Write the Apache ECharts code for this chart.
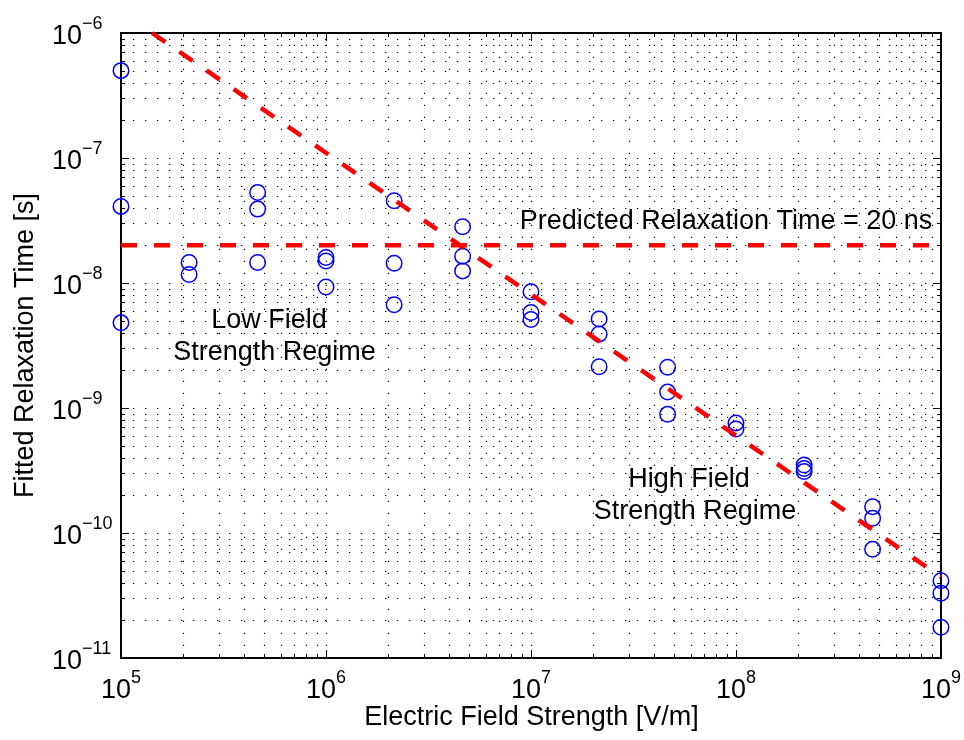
<!DOCTYPE html>
<html>
<head>
<meta charset="utf-8">
<script src="https://cdn.jsdelivr.net/npm/echarts@6/dist/echarts.min.js"></script>
<style>
  html, body { margin: 0; padding: 0; background: #ffffff; }
  #chart { width: 964px; height: 740px; }
</style>
</head>
<body>
<div id="chart"></div>
<script>
// Fitted relaxation times (s) against applied field strength (V/m)
const fieldStrength = [
  1e5, 1e5, 1e5,
  2.15e5, 2.15e5,
  4.64e5, 4.64e5, 4.64e5,
  1e6, 1e6, 1e6,
  2.15e6, 2.15e6, 2.15e6,
  4.64e6, 4.64e6, 4.64e6,
  1e7, 1e7, 1e7,
  2.15e7, 2.15e7, 2.15e7,
  4.64e7, 4.64e7, 4.64e7,
  1e8, 1e8,
  2.15e8, 2.15e8, 2.15e8,
  4.64e8, 4.64e8, 4.64e8,
  1e9, 1e9, 1e9
];
const relaxationTime = [
  5.0e-7, 4.1e-8, 4.8e-9,
  1.46e-8, 1.17e-8,
  5.3e-8, 3.9e-8, 1.46e-8,
  1.6e-8, 1.5e-8, 9.3e-9,
  4.55e-8, 1.44e-8, 6.7e-9,
  2.82e-8, 1.64e-8, 1.25e-8,
  8.5e-9, 5.8e-9, 5.1e-9,
  5.15e-9, 3.9e-9, 2.14e-9,
  2.12e-9, 1.34e-9, 8.9e-10,
  7.6e-10, 6.8e-10,
  3.5e-10, 3.28e-10, 3.1e-10,
  1.62e-10, 1.31e-10, 7.4e-11,
  4.15e-11, 3.3e-11, 1.76e-11
];

// Predicted constant relaxation time: 20 ns
const predictedTime = 2e-8;
const fieldRange = [1e5, 1e9];

// High-field trend line endpoints (field, time)
const trendField = [1.42e5, 1e9];
const trendTime = [1e-6, 4.45e-11];

// Axis decades
const xDecades = [1e5, 1e6, 1e7, 1e8, 1e9];
const yDecades = [1e-11, 1e-10, 1e-9, 1e-8, 1e-7, 1e-6];

const FONT = '"Liberation Sans", Arial, Helvetica, sans-serif';

// Minor grid values 2..9 within each decade
function minorValues(decades) {
  const out = [];
  for (let i = 0; i < decades.length - 1; i++) {
    for (let m = 2; m <= 9; m++) out.push(m * decades[i]);
  }
  return out;
}

// Grid/tick items: [x, y, kind] kind 0 = vertical minor, 1 = vertical major,
// 2 = horizontal minor, 3 = horizontal major
const gridItems = [];
minorValues(xDecades).forEach(v => gridItems.push([v, yDecades[0], 0]));
xDecades.forEach(v => gridItems.push([v, yDecades[0], 1]));
minorValues(yDecades).forEach(v => gridItems.push([xDecades[0], v, 2]));
yDecades.forEach(v => gridItems.push([xDecades[0], v, 3]));

function renderGrid(params, api) {
  const cs = params.coordSys;
  const kind = api.value(2);
  const left = cs.x, right = cs.x + cs.width, top = cs.y, bottom = cs.y + cs.height;
  const tick = (kind === 1 || kind === 3) ? 8 : 4;
  const children = [];
  const dot = { stroke: '#000', lineWidth: 1.2, lineDash: [1.3, 10.7] };
  const solid = { stroke: '#000', lineWidth: 1 };
  if (kind <= 1) {
    const px = Math.round(api.coord([api.value(0), api.value(1)])[0]) + 0.5;
    if (px > left + 2 && px < right - 2) {
      children.push({ type: 'line', shape: { x1: px, y1: bottom, x2: px, y2: top }, style: dot });
    }
    children.push({ type: 'line', shape: { x1: px, y1: bottom, x2: px, y2: bottom - tick }, style: solid });
    children.push({ type: 'line', shape: { x1: px, y1: top, x2: px, y2: top + tick }, style: solid });
  } else {
    const py = Math.round(api.coord([api.value(0), api.value(1)])[1]) + 0.5;
    if (py > top + 2 && py < bottom - 2) {
      children.push({ type: 'line', shape: { x1: left, y1: py, x2: right, y2: py }, style: dot });
    }
    children.push({ type: 'line', shape: { x1: left, y1: py, x2: left + tick, y2: py }, style: solid });
    children.push({ type: 'line', shape: { x1: right, y1: py, x2: right - tick, y2: py }, style: solid });
  }
  return { type: 'group', children };
}

function powerLabel(v) {
  const e = Math.round(Math.log10(v));
  const s = e < 0 ? '\u2212' + (-e) : String(e);
  return '{b|10}{e|' + s + '}';
}

// Base "10" sits low in a tall line box, exponent hangs at its top
const labelRich = {
  b: { fontSize: 27, lineHeight: 35, verticalAlign: 'bottom', fontFamily: FONT, color: '#000' },
  e: { fontSize: 18, lineHeight: 18, verticalAlign: 'top', fontFamily: FONT, color: '#000' }
};

const chart = echarts.init(document.getElementById('chart'), null, { renderer: 'canvas' });

chart.setOption({
  animation: false,
  backgroundColor: '#ffffff',
  grid: {
    left: 121, top: 33, width: 821, height: 625,
    show: true, borderColor: '#000', borderWidth: 2, backgroundColor: 'transparent'
  },
  xAxis: {
    type: 'log', logBase: 10, min: fieldRange[0], max: fieldRange[1],
    axisLine: { show: false }, axisTick: { show: false }, splitLine: { show: false },
    axisLabel: { formatter: powerLabel, rich: labelRich, margin: 11, showMinLabel: true, showMaxLabel: true }
  },
  yAxis: {
    type: 'log', logBase: 10, min: yDecades[0], max: yDecades[yDecades.length - 1],
    axisLine: { show: false }, axisTick: { show: false }, splitLine: { show: false },
    axisLabel: { formatter: powerLabel, rich: labelRich, margin: 69, align: 'left', showMinLabel: true, showMaxLabel: true }
  },
  series: [
    {
      type: 'custom',
      renderItem: renderGrid,
      data: gridItems,
      encode: { x: 0, y: 1 },
      silent: true,
      clip: false,
      z: 1
    },
    {
      type: 'scatter',
      data: fieldStrength.map((x, i) => [x, relaxationTime[i]]),
      symbol: 'circle',
      symbolSize: 15.5,
      itemStyle: { color: 'rgba(0,0,0,0)', borderColor: '#0000ff', borderWidth: 1.5, opacity: 1 },
      clip: false,
      z: 3
    },
    {
      type: 'line',
      data: fieldRange.map(x => [x, predictedTime]),
      showSymbol: false,
      symbol: 'none',
      lineStyle: { color: '#ff0000', width: 4.5, type: [16, 17], cap: 'butt' },
      clip: true,
      z: 4
    },
    {
      type: 'line',
      data: trendField.map((x, i) => [x, trendTime[i]]),
      showSymbol: false,
      symbol: 'none',
      lineStyle: { color: '#ff0000', width: 4.5, type: [16, 17], cap: 'butt' },
      clip: true,
      z: 4
    }
  ],
  graphic: [
    { type: 'text', x: 531.5, y: 718, style: { text: 'Electric Field Strength [V/m]', font: '27px ' + FONT, fill: '#000', align: 'center', verticalAlign: 'middle', textAlign: 'center', textVerticalAlign: 'middle' } },
    { type: 'text', x: 26, y: 345.5, rotation: Math.PI / 2, style: { text: 'Fitted Relaxation Time [s]', font: '27px ' + FONT, fill: '#000', align: 'center', verticalAlign: 'middle', textAlign: 'center', textVerticalAlign: 'middle' } },
    { type: 'text', x: 726, y: 222, z: 10, style: { text: 'Predicted Relaxation Time = 20 ns', font: '27px ' + FONT, fill: '#000', align: 'center', verticalAlign: 'middle', textAlign: 'center', textVerticalAlign: 'middle' } },
    { type: 'text', x: 269, y: 321, z: 10, style: { text: 'Low Field', font: '27px ' + FONT, fill: '#000', align: 'center', verticalAlign: 'middle', textAlign: 'center', textVerticalAlign: 'middle' } },
    { type: 'text', x: 274.5, y: 353, z: 10, style: { text: 'Strength Regime', font: '27px ' + FONT, fill: '#000', align: 'center', verticalAlign: 'middle', textAlign: 'center', textVerticalAlign: 'middle' } },
    { type: 'text', x: 689, y: 480, z: 10, style: { text: 'High Field', font: '27px ' + FONT, fill: '#000', align: 'center', verticalAlign: 'middle', textAlign: 'center', textVerticalAlign: 'middle' } },
    { type: 'text', x: 695, y: 512, z: 10, style: { text: 'Strength Regime', font: '27px ' + FONT, fill: '#000', align: 'center', verticalAlign: 'middle', textAlign: 'center', textVerticalAlign: 'middle' } }
  ]
});
</script>
</body>
</html>
